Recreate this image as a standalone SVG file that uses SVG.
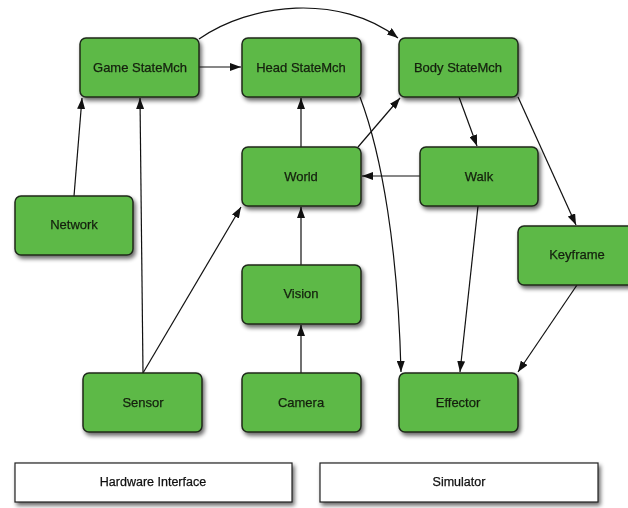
<svg xmlns="http://www.w3.org/2000/svg" width="628" height="508" viewBox="0 0 628 508">
<defs>
<filter id="sh" x="-20%" y="-20%" width="150%" height="160%">
<feGaussianBlur in="SourceAlpha" stdDeviation="2.2"/>
<feOffset dx="2" dy="3" result="b"/>
<feComponentTransfer><feFuncA type="linear" slope="0.6"/></feComponentTransfer>
<feMerge><feMergeNode/><feMergeNode in="SourceGraphic"/></feMerge>
</filter>
<marker id="ah" viewBox="0 0 11 8" refX="11" refY="4" markerWidth="11" markerHeight="8" markerUnits="userSpaceOnUse" orient="auto">
<path d="M0,0 L11,4 L0,8 Z" fill="#111"/>
</marker>
</defs>
<style>
.n rect{fill:#5DB947;stroke:#1f2a1a;stroke-width:1.5}
.w rect{fill:#fff;stroke:#222;stroke-width:1.2}
text{font-family:"Liberation Sans",Arial,sans-serif;font-size:13px;fill:#14200e;stroke:#14200e;stroke-width:0.25;text-anchor:middle}
.w text{fill:#111;stroke:#111;font-size:12.5px}
.c path{fill:none;stroke:#111;stroke-width:1.2;marker-end:url(#ah)}
</style>
<rect width="628" height="508" fill="#fff"/>
<g class="c">
<path d="M199,39 C250,3 340,-7 398,38"/>
<path d="M199,67 L241,67"/>
<path d="M74,196 L82,98"/>
<path d="M143,373 L140,98"/>
<path d="M143,373 L241,207"/>
<path d="M301,373 L301,325"/>
<path d="M301,265 L301,207"/>
<path d="M301,147 L301,98"/>
<path d="M358,147 L400,98"/>
<path d="M420,176 L362,176"/>
<path d="M459,97 L477,146"/>
<path d="M518,97 L576,225"/>
<path d="M360,97 C382,155 398,250 401,372"/>
<path d="M478,206 L460,372"/>
<path d="M577,285 L518,372"/>
</g>
<g id="game" class="n" filter="url(#sh)"><rect x="80" y="38" width="119" height="59" rx="6"/><text x="140" y="72">Game StateMch</text></g>
<g id="head" class="n" filter="url(#sh)"><rect x="242" y="38" width="119" height="59" rx="6"/><text x="301" y="72">Head StateMch</text></g>
<g id="body" class="n" filter="url(#sh)"><rect x="399" y="38" width="119" height="59" rx="6"/><text x="458" y="72">Body StateMch</text></g>
<g id="world" class="n" filter="url(#sh)"><rect x="242" y="147" width="119" height="59" rx="6"/><text x="301" y="181">World</text></g>
<g id="walk" class="n" filter="url(#sh)"><rect x="420" y="147" width="118" height="59" rx="6"/><text x="479" y="181">Walk</text></g>
<g id="network" class="n" filter="url(#sh)"><rect x="15" y="196" width="118" height="59" rx="6"/><text x="74" y="229">Network</text></g>
<g id="keyframe" class="n" filter="url(#sh)"><rect x="518" y="226" width="119" height="59" rx="6"/><text x="577" y="259">Keyframe</text></g>
<g id="vision" class="n" filter="url(#sh)"><rect x="242" y="265" width="119" height="59" rx="6"/><text x="301" y="298">Vision</text></g>
<g id="sensor" class="n" filter="url(#sh)"><rect x="83" y="373" width="119" height="59" rx="6"/><text x="143" y="407">Sensor</text></g>
<g id="camera" class="n" filter="url(#sh)"><rect x="242" y="373" width="119" height="59" rx="6"/><text x="301" y="407">Camera</text></g>
<g id="effector" class="n" filter="url(#sh)"><rect x="399" y="373" width="119" height="59" rx="6"/><text x="458" y="407">Effector</text></g>
<g id="hw" class="w" filter="url(#sh)"><rect x="15" y="463" width="277" height="39"/><text x="153" y="486">Hardware Interface</text></g>
<g id="sim" class="w" filter="url(#sh)"><rect x="320" y="463" width="278" height="39"/><text x="459" y="486">Simulator</text></g>
</svg>
